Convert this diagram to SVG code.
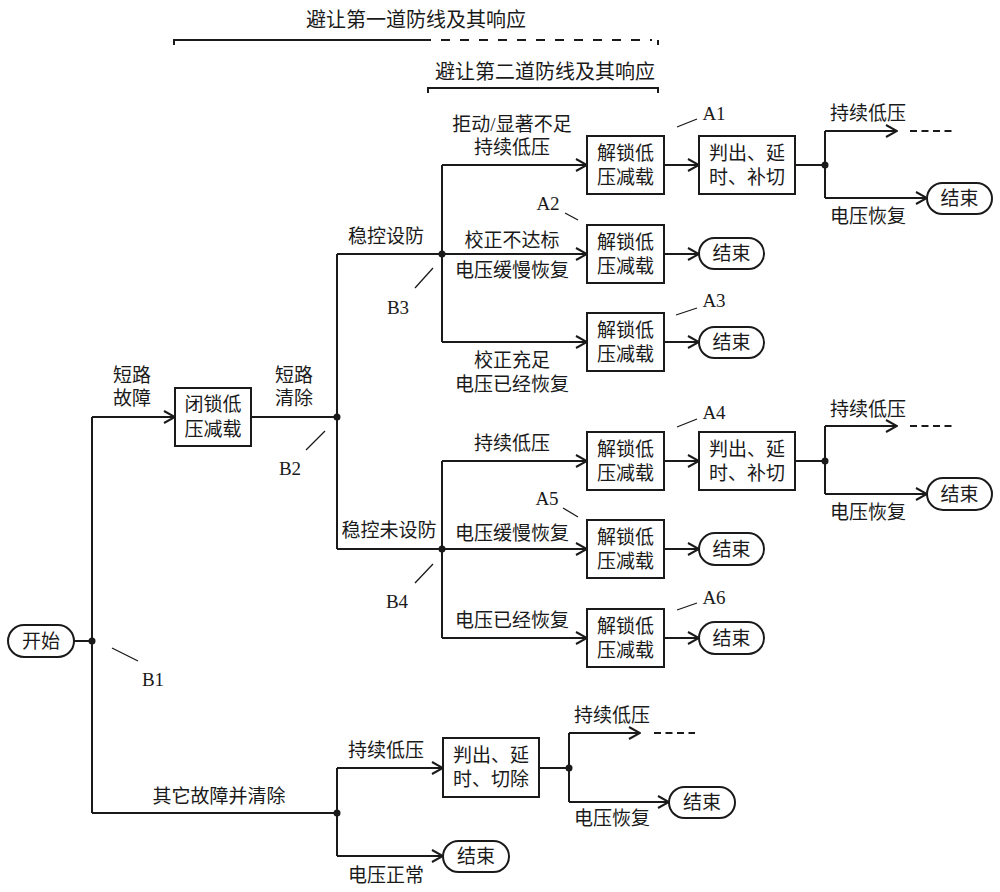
<svg xmlns="http://www.w3.org/2000/svg" width="1000" height="892" viewBox="0 0 1000 892">
<defs>
<style>
text{font-family:"Liberation Serif","Noto Sans CJK SC",serif;font-size:19px;fill:#1a1a1a;text-anchor:middle;dominant-baseline:central}
.ln{stroke:#1a1a1a;stroke-width:2;fill:none}
.ar{stroke:#1a1a1a;stroke-width:2;fill:none;marker-end:url(#arr)}
.ld{stroke:#1a1a1a;stroke-width:1.3;fill:none}
.box{stroke:#1a1a1a;stroke-width:2;fill:#fff}
.dot{fill:#1a1a1a}
.dash{stroke:#1a1a1a;stroke-width:2;stroke-dasharray:7,4.5;fill:none}
.dashl{stroke:#1a1a1a;stroke-width:2;stroke-dasharray:9,10;fill:none}
</style>
<marker id="arr" markerUnits="userSpaceOnUse" markerWidth="13" markerHeight="14" viewBox="0 0 13 14" refX="12" refY="7" orient="auto">
<path d="M1,1 L12,7 L1,13" stroke="#1a1a1a" stroke-width="2" fill="none"/>
</marker>
</defs>
<rect width="1000" height="892" fill="#fff"/>

<g id="brackets">
<text x="416" y="20" style="font-size:20px">避让第一道防线及其响应</text>
<path class="ln" d="M174,45 V40 H431"/>
<path class="dashl" d="M441,40 H652"/>
<path class="ln" d="M658,40 V45"/>
<text x="545" y="72" style="font-size:20px">避让第二道防线及其响应</text>
<path class="ln" d="M428,93 V88 H658 V93"/>
</g>

<g id="connectors">
<path class="ln" d="M74,641 H92"/>
<path class="ln" d="M92,417 V813"/>
<path class="ar" d="M92,417 H175"/>
<path class="ln" d="M251,417 H337"/>
<path class="ln" d="M337,254 V549"/>
<path class="ln" d="M337,254 H442"/>
<path class="ln" d="M337,549 H442"/>
<path class="ln" d="M442,165 V342"/>
<path class="ar" d="M442,165 H587"/>
<path class="ar" d="M442,254 H587"/>
<path class="ar" d="M442,342 H587"/>
<path class="ar" d="M664,165 H699"/>
<path class="ar" d="M664,254 H699"/>
<path class="ar" d="M664,342 H699"/>
<path class="ln" d="M795,165 H825"/>
<path class="ln" d="M825,131 V198"/>
<path class="ar" d="M825,131 H897"/>
<path class="dash" d="M910,131 H952"/>
<path class="ar" d="M825,198 H927"/>
<path class="ln" d="M442,461 V638"/>
<path class="ar" d="M442,461 H587"/>
<path class="ar" d="M442,549 H587"/>
<path class="ar" d="M442,638 H587"/>
<path class="ar" d="M664,461 H699"/>
<path class="ar" d="M664,549 H699"/>
<path class="ar" d="M664,638 H699"/>
<path class="ln" d="M795,461 H825"/>
<path class="ln" d="M825,426 V494"/>
<path class="ar" d="M825,426 H897"/>
<path class="dash" d="M910,426 H952"/>
<path class="ar" d="M825,494 H927"/>
<path class="ln" d="M92,813 H337"/>
<path class="ln" d="M337,768 V856"/>
<path class="ar" d="M337,768 H443"/>
<path class="ar" d="M337,856 H443"/>
<path class="ln" d="M539,768 H569"/>
<path class="ln" d="M569,733 V802"/>
<path class="ar" d="M569,733 H640"/>
<path class="dash" d="M654,733 H695"/>
<path class="ar" d="M569,802 H669"/>
<circle class="dot" cx="92" cy="641" r="3.5"/>
<circle class="dot" cx="337" cy="417" r="3.5"/>
<circle class="dot" cx="442" cy="254" r="3.5"/>
<circle class="dot" cx="442" cy="549" r="3.5"/>
<circle class="dot" cx="825" cy="165" r="3.5"/>
<circle class="dot" cx="825" cy="461" r="3.5"/>
<circle class="dot" cx="337" cy="813" r="3.5"/>
<circle class="dot" cx="569" cy="768" r="3.5"/>
<path class="ld" d="M112,648 L138,661"/>
<path class="ld" d="M306,450 L325,431"/>
<path class="ld" d="M415,288 L433,268"/>
<path class="ld" d="M415,583 L433,564"/>
<path class="ld" d="M677,127 L697,119"/>
<path class="ld" d="M565,213 L578,220"/>
<path class="ld" d="M676,315 L697,308"/>
<path class="ld" d="M677,427 L697,419"/>
<path class="ld" d="M563,508 L578,517"/>
<path class="ld" d="M677,610 L697,603"/>
</g>

<g id="labels">
<text x="132" y="375">短路</text>
<text x="132" y="398">故障</text>
<text x="294" y="375">短路</text>
<text x="294" y="398">清除</text>
<text x="386" y="236">稳控设防</text>
<text x="389" y="530">稳控未设防</text>
<text x="153" y="679">B1</text>
<text x="290" y="468">B2</text>
<text x="398" y="307">B3</text>
<text x="397" y="601">B4</text>
<text x="512" y="124">拒动/显著不足</text>
<text x="512" y="147">持续低压</text>
<text x="512" y="240">校正不达标</text>
<text x="512" y="270">电压缓慢恢复</text>
<text x="512" y="360">校正充足</text>
<text x="512" y="384">电压已经恢复</text>
<text x="868" y="113">持续低压</text>
<text x="868" y="216">电压恢复</text>
<text x="714" y="113">A1</text>
<text x="548" y="203">A2</text>
<text x="714" y="300">A3</text>
<text x="512" y="443">持续低压</text>
<text x="512" y="533">电压缓慢恢复</text>
<text x="512" y="620">电压已经恢复</text>
<text x="868" y="409">持续低压</text>
<text x="868" y="512">电压恢复</text>
<text x="714" y="412">A4</text>
<text x="547" y="498">A5</text>
<text x="714" y="597">A6</text>
<text x="219" y="796">其它故障并清除</text>
<text x="386" y="750">持续低压</text>
<text x="386" y="875">电压正常</text>
<text x="612" y="715">持续低压</text>
<text x="612" y="818">电压恢复</text>
</g>

<g id="start"><rect class="box" x="8" y="625" width="66" height="32" rx="16"/><text x="41" y="641">开始</text></g>
<g id="lock"><rect class="box" x="175" y="388" width="76" height="58"/><text x="213" y="404">闭锁低</text><text x="213" y="429">压减载</text></g>

<g id="a1box"><rect class="box" x="587" y="136" width="77" height="58"/><text x="625.5" y="153">解锁低</text><text x="625.5" y="177">压减载</text></g>
<g id="a2box"><rect class="box" x="587" y="225" width="77" height="58"/><text x="625.5" y="242">解锁低</text><text x="625.5" y="266">压减载</text></g>
<g id="a3box"><rect class="box" x="587" y="313" width="77" height="58"/><text x="625.5" y="330">解锁低</text><text x="625.5" y="354">压减载</text></g>
<g id="judge1"><rect class="box" x="699" y="136" width="96" height="58"/><text x="747" y="153">判出、延</text><text x="747" y="177">时、补切</text></g>
<g id="end1"><rect class="box" x="927" y="183" width="65" height="31" rx="15.5"/><text x="959.5" y="198.5">结束</text></g>
<g id="end2"><rect class="box" x="699" y="238" width="65" height="31" rx="15.5"/><text x="731.5" y="253.5">结束</text></g>
<g id="end3"><rect class="box" x="699" y="327" width="65" height="31" rx="15.5"/><text x="731.5" y="342.5">结束</text></g>

<g id="a4box"><rect class="box" x="587" y="432" width="77" height="58"/><text x="625.5" y="449">解锁低</text><text x="625.5" y="473">压减载</text></g>
<g id="a5box"><rect class="box" x="587" y="520" width="77" height="58"/><text x="625.5" y="537">解锁低</text><text x="625.5" y="561">压减载</text></g>
<g id="a6box"><rect class="box" x="587" y="609" width="77" height="58"/><text x="625.5" y="626">解锁低</text><text x="625.5" y="650">压减载</text></g>
<g id="judge2"><rect class="box" x="699" y="432" width="96" height="58"/><text x="747" y="449">判出、延</text><text x="747" y="473">时、补切</text></g>
<g id="end4"><rect class="box" x="927" y="478" width="65" height="32" rx="16"/><text x="959.5" y="494">结束</text></g>
<g id="end5"><rect class="box" x="699" y="533" width="65" height="32" rx="16"/><text x="731.5" y="549">结束</text></g>
<g id="end6"><rect class="box" x="699" y="622" width="65" height="32" rx="16"/><text x="731.5" y="638">结束</text></g>

<g id="judge3"><rect class="box" x="443" y="738" width="96" height="59"/><text x="491" y="755">判出、延</text><text x="491" y="779">时、切除</text></g>
<g id="end7"><rect class="box" x="669" y="787" width="66" height="31" rx="15.5"/><text x="702" y="802.5">结束</text></g>
<g id="end8"><rect class="box" x="443" y="841" width="66" height="31" rx="15.5"/><text x="476" y="856.5">结束</text></g>
</svg>
